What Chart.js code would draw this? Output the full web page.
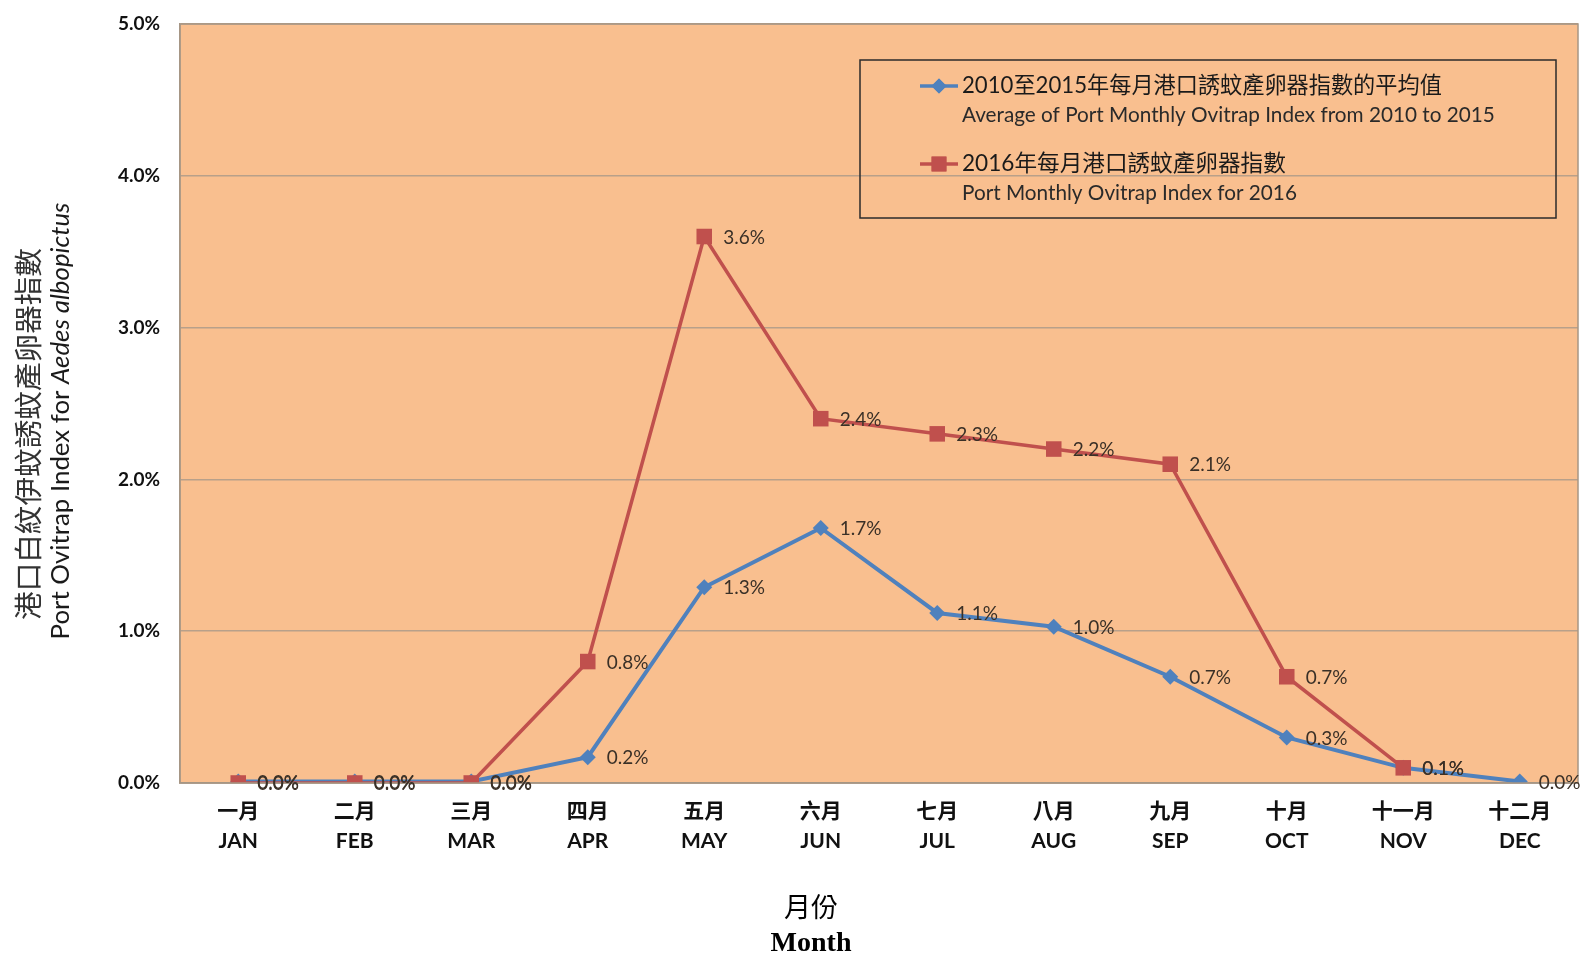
<!DOCTYPE html>
<html>
<head>
<meta charset="utf-8">
<script src="https://cdn.jsdelivr.net/npm/chart.js@4"></script>
<style>
html,body{margin:0;padding:0;background:#fff;}
#wrap{width:1589px;height:957px;position:relative;}
</style>
</head>
<body>
<div id="wrap"><canvas id="c"></canvas></div>
<script>
const monthsZh = ['一月','二月','三月','四月','五月','六月','七月','八月','九月','十月','十一月','十二月'];
const monthsEn = ['JAN','FEB','MAR','APR','MAY','JUN','JUL','AUG','SEP','OCT','NOV','DEC'];
const avg2010to2015 = [0.01, 0.01, 0.01, 0.17, 1.29, 1.68, 1.12, 1.03, 0.70, 0.30, 0.10, 0.01];
const index2016 = [0.0, 0.0, 0.0, 0.80, 3.60, 2.40, 2.30, 2.20, 2.10, 0.70, 0.10, null];
const yTicks = [0, 1, 2, 3, 4, 5];
const avgNameZh = '2010至2015年每月港口誘蚊產卵器指數的平均值';
const avgNameEn = 'Average of Port Monthly Ovitrap Index from 2010 to 2015';
const curNameZh = '2016年每月港口誘蚊產卵器指數';
const curNameEn = 'Port Monthly Ovitrap Index for 2016';
const yTitleZh = '港口白紋伊蚊誘蚊產卵器指數';
const yTitleEnA = 'Port Ovitrap Index for ';
const yTitleEnB = 'Aedes albopictus';
const xTitleZh = '月份';
const xTitleEn = 'Month';

const labels = monthsZh.map((z, i) => [z, monthsEn[i]]);
const BLUE = '#4F81BD', RED = '#C0504D';
const SANS = "Lato, 'Noto Sans CJK TC', sans-serif";
const CJK = "'Noto Sans CJK TC', sans-serif";

function fitSize(ctx, text, fam, weight, style, target, base) {
  ctx.font = `${style} ${weight} ${base}px ${fam}`;
  const w = ctx.measureText(text).width;
  return base * target / w;
}

const bgPlugin = {
  id: 'bg',
  beforeDraw(chart) {
    const {ctx, chartArea: a} = chart;
    ctx.save();
    ctx.fillStyle = '#F9BF8F';
    ctx.fillRect(a.left, a.top, a.right - a.left, a.bottom - a.top);
    ctx.restore();
  },
  afterDatasetsDraw(chart) {
    const {ctx, chartArea: a} = chart;
    ctx.save();
    ctx.strokeStyle = '#A69685';
    ctx.lineWidth = 1.5;
    ctx.strokeRect(a.left, a.top, a.right - a.left, a.bottom - a.top);
    ctx.restore();
  }
};

const labelPlugin = {
  id: 'vlabels',
  afterDatasetsDraw(chart) {
    const ctx = chart.ctx;
    ctx.save();
    ctx.font = `400 19px ${SANS}`;
    ctx.fillStyle = '#3a3027';
    ctx.textAlign = 'left';
    ctx.textBaseline = 'middle';
    chart.data.datasets.forEach((ds, di) => {
      const meta = chart.getDatasetMeta(di);
      meta.data.forEach((pt, i) => {
        const v = ds.data[i];
        if (v === null || v === undefined) return;
        ctx.fillText(v.toFixed(1) + '%', pt.x + 19, pt.y + 1);
      });
    });
    ctx.restore();
  }
};

const decoPlugin = {
  id: 'deco',
  afterDraw(chart) {
    const ctx = chart.ctx;
    ctx.save();
    // Legend box
    const bx = 860, by = 60, bw = 696, bh = 158;
    ctx.strokeStyle = '#2b2b2b';
    ctx.lineWidth = 1.5;
    ctx.strokeRect(bx, by, bw, bh);
    const items = [
      {c: BLUE, style: 'rectRot', r: 7.5, y1: 86, y2: 115, zh: avgNameZh, en: avgNameEn, wz: 480, we: 533},
      {c: RED, style: 'rect', r: 10.5, y1: 164, y2: 193, zh: curNameZh, en: curNameEn, wz: 324, we: 335}
    ];
    items.forEach(it => {
      ctx.strokeStyle = it.c;
      ctx.lineWidth = 3.5;
      ctx.beginPath();
      ctx.moveTo(920, it.y1);
      ctx.lineTo(958, it.y1);
      ctx.stroke();
      ctx.fillStyle = it.c;
      Chart.helpers.drawPoint(ctx, {pointStyle: it.style, radius: it.r, borderWidth: 0}, 939, it.y1);
      ctx.fill();
      ctx.fillStyle = '#1a1a1a';
      ctx.textAlign = 'left';
      ctx.textBaseline = 'middle';
      const s1 = fitSize(ctx, it.zh, SANS, 400, 'normal', it.wz, 21);
      ctx.font = `normal 400 ${s1}px ${SANS}`;
      ctx.fillText(it.zh, 962, it.y1);
      ctx.fillStyle = '#2a2a2a';
      const s2 = fitSize(ctx, it.en, SANS, 400, 'normal', it.we, 18);
      ctx.font = `normal 400 ${s2}px ${SANS}`;
      ctx.fillText(it.en, 962, it.y2);
    });

    // Y axis title (rotated, two lines)
    ctx.save();
    ctx.translate(28, 434);
    ctx.rotate(-Math.PI / 2);
    ctx.fillStyle = '#333';
    ctx.textAlign = 'center';
    ctx.textBaseline = 'middle';
    const zs = fitSize(ctx, yTitleZh, CJK, 400, 'normal', 372, 26);
    ctx.font = `normal 400 ${zs}px ${CJK}`;
    ctx.fillText(yTitleZh, 0, 0);
    ctx.restore();

    ctx.save();
    ctx.translate(61, 421);
    ctx.rotate(-Math.PI / 2);
    ctx.fillStyle = '#1a1a1a';
    ctx.textBaseline = 'middle';
    ctx.textAlign = 'left';
    const base = 22;
    ctx.font = `normal 400 ${base}px ${SANS}`;
    const wa0 = ctx.measureText(yTitleEnA).width;
    ctx.font = `italic 400 ${base}px ${SANS}`;
    const wb0 = ctx.measureText(yTitleEnB).width;
    const fs = base * 437 / (wa0 + wb0);
    ctx.font = `normal 400 ${fs}px ${SANS}`;
    const wa = ctx.measureText(yTitleEnA).width;
    ctx.font = `italic 400 ${fs}px ${SANS}`;
    const wb = ctx.measureText(yTitleEnB).width;
    const start = -(wa + wb) / 2;
    ctx.font = `normal 400 ${fs}px ${SANS}`;
    ctx.fillText(yTitleEnA, start, 0);
    ctx.font = `italic 400 ${fs}px ${SANS}`;
    ctx.fillText(yTitleEnB, start + wa, 0);
    ctx.restore();

    // X axis title
    ctx.fillStyle = '#000';
    ctx.textAlign = 'center';
    ctx.textBaseline = 'middle';
    ctx.font = `400 27px ${CJK}`;
    ctx.fillText(xTitleZh, 811, 907);
    ctx.font = `700 28px 'Liberation Serif', 'Times New Roman', serif`;
    ctx.fillText(xTitleEn, 811, 944);
    ctx.restore();
  }
};

new Chart(document.getElementById('c'), {
  type: 'line',
  data: {
    labels: labels,
    datasets: [
      {
        label: avgNameZh,
        data: avg2010to2015,
        borderColor: BLUE,
        backgroundColor: BLUE,
        borderWidth: 4,
        pointStyle: 'rectRot',
        pointRadius: 8,
        pointBorderWidth: 0,
        tension: 0,
        order: 1
      },
      {
        label: curNameZh,
        data: index2016,
        borderColor: RED,
        backgroundColor: RED,
        borderWidth: 3.5,
        pointStyle: 'rect',
        pointRadius: 11,
        pointBorderWidth: 0,
        tension: 0,
        spanGaps: false,
        order: 0
      }
    ]
  },
  options: {
    responsive: true,
    maintainAspectRatio: false,
    animation: false,
    layout: {padding: {top: 24, right: 3, left: 0, bottom: 0}},
    plugins: {
      legend: {display: false},
      tooltip: {enabled: false},
      title: {display: false}
    },
    scales: {
      x: {
        offset: true,
        grid: {display: false, drawTicks: false},
        border: {display: true, color: '#A69685', width: 1.5},
        ticks: {
          font: {family: SANS, size: 21, weight: '700', lineHeight: 1.4},
          color: '#111',
          padding: 14,
          maxRotation: 0,
          autoSkip: false
        },
        afterFit(s) { s.height = 174; s.paddingLeft = 0; s.paddingRight = 0; }
      },
      y: {
        min: yTicks[0],
        max: yTicks[yTicks.length - 1],
        afterBuildTicks(s) { s.ticks = yTicks.map(v => ({value: v})); },
        grid: {color: '#B8A08A', lineWidth: 1.5, drawTicks: false},
        border: {display: true, color: '#A69685', width: 1.5},
        ticks: {
          font: {family: SANS, size: 19, weight: '700'},
          color: '#111',
          padding: 20,
          callback: v => Number(v).toFixed(1) + '%'
        },
        afterFit(s) { s.width = 180; s.paddingTop = 0; s.paddingBottom = 0; }
      }
    }
  },
  plugins: [bgPlugin, labelPlugin, decoPlugin]
});
</script>
</body>
</html>
